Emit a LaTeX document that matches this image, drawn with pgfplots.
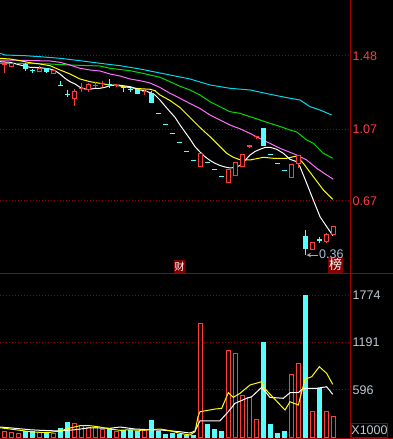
\documentclass[border=0pt]{standalone}
\usepackage{pgfplots}
\pgfplotsset{compat=1.18}
\usepackage{pgfplotstable}
\usepackage{fontspec}
\setmainfont{Liberation Sans}
\newfontfamily\cjk{Noto Sans CJK SC}
\definecolor{cred}{RGB}{255,60,60}
\definecolor{ccyan}{RGB}{84,255,255}
\definecolor{gridc}{RGB}{150,0,0}
\definecolor{framec}{RGB}{160,0,0}
\definecolor{maA}{RGB}{0,215,235}
\definecolor{maB}{RGB}{0,220,0}
\definecolor{maC}{RGB}{255,110,255}
\definecolor{maD}{RGB}{255,255,0}
\definecolor{vlab}{RGB}{190,200,210}
\definecolor{lbl}{RGB}{170,190,210}
\definecolor{boxbg}{RGB}{128,0,0}
\definecolor{arrowc}{RGB}{170,170,170}

% price moving averages (x position, price)
\pgfplotstableread{
x y
0 1.4482
10 1.4448
20 1.4297
30 1.4169
40 1.4147
50 1.4074
55 1.3979
60 1.3795
65 1.3554
70 1.3365
75 1.3236
80 1.3052
85 1.2957
90 1.2941
95 1.2996
100 1.2996
105 1.3052
110 1.3141
115 1.3181
120 1.3164
125 1.3125
130 1.3086
135 1.2996
140 1.2901
145 1.2862
150 1.2751
155 1.2622
160 1.2342
165 1.2007
170 1.1688
175 1.1376
180 1.0946
185 1.0555
190 1.0163
195 0.9733
200 0.9437
205 0.9175
210 0.8963
215 0.8806
220 0.8683
225 0.8600
230 0.8544
235 0.8571
240 0.8683
245 0.8963
250 0.9270
255 0.9465
260 0.9588
265 0.9689
270 0.9700
276.7 0.9588
283.3 0.9365
290 0.9029
296.7 0.8895
300 0.8616
306.7 0.7689
313.3 0.6756
320 0.5823
326.7 0.5264
333 0.4760
}\mafive
\pgfplotstableread{
x y
0 1.4671
10 1.4632
20 1.4537
30 1.4426
40 1.4353
50 1.4258
60 1.4018
70 1.3795
80 1.3516
90 1.3365
100 1.3275
110 1.3181
120 1.3125
130 1.3030
140 1.2974
150 1.2941
155 1.2862
160 1.2622
170 1.2314
180 1.1923
190 1.1365
200 1.0806
210 1.0292
220 0.9733
226.7 0.9365
233.3 0.9141
240 0.9002
250 0.8990
263.3 0.9141
273.3 0.9086
286.7 0.9086
296.7 0.9214
303.3 0.8806
313.3 0.8063
323.3 0.7315
332.7 0.6795
}\maten
\pgfplotstableread{
x y
0 1.4576
20 1.4560
50 1.4521
60 1.4448
70 1.4297
80 1.4113
90 1.4018
100 1.3962
110 1.3795
120 1.3683
130 1.3516
140 1.3421
150 1.3292
160 1.3041
170 1.2717
180 1.2437
190 1.2147
200 1.1867
210 1.1505
220 1.1225
230 1.0946
240 1.0734
250 1.0477
260 1.0187
280 0.9644
296.7 0.9270
306.7 0.8990
316.7 0.8527
326.7 0.8153
333.3 0.7913
}\matwenty
\pgfplotstableread{
x y
0 1.4392
20 1.4392
50 1.4353
70 1.4297
100 1.4241
110 1.4113
130 1.3979
140 1.3867
150 1.3739
160 1.3610
170 1.3365
180 1.3108
190 1.2901
200 1.2622
210 1.2247
220 1.1968
230 1.1688
240 1.1599
250 1.1409
260 1.1225
270 1.1040
280 1.0862
290 1.0666
296.7 1.0555
306.7 1.0108
313.3 0.9924
323.3 0.9365
332.7 0.9086
}\mathirty
\pgfplotstableread{
x y
0 1.4951
5 1.4856
25 1.4817
40 1.4761
60 1.4671
80 1.4537
100 1.4392
120 1.4258
140 1.4074
150 1.3962
170 1.3739
190 1.3516
210 1.3181
230 1.2996
250 1.2901
270 1.2662
290 1.2439
300 1.2342
310 1.1968
320 1.1783
331.7 1.1504
}\masixty

% candle bodies: x, base, height
\pgfplotstableread{
x b h
4 1.4300 0.0020
11 1.4202 0.0151
18 1.4380 0.0012
39 1.3923 0.0151
53 1.3834 0.0128
74 1.2399 0.0391
81 1.2996 0.0012
88 1.2941 0.0240
95 1.3164 0.0012
102 1.3275 0.0012
116 1.3141 0.0012
144 1.2807 0.0012
200 0.8616 0.0749
228 0.7722 0.0749
235 0.8113 0.0749
242 0.8616 0.0654
249 0.9772 0.0012
256 1.0290 0.0012
291 0.8024 0.0726
298 0.8806 0.0425
312 0.3963 0.0430
326 0.4432 0.0369
333 0.4840 0.0463
}\rbody
\pgfplotstableread{
x b h
25 1.4074 0.0223
32 1.3962 0.0012
46 1.3923 0.0151
60 1.3164 0.0012
67 1.2622 0.0012
109 1.3181 0.0012
123 1.3052 0.0012
130 1.2901 0.0012
137 1.2717 0.0224
151 1.2214 0.0504
158 1.1599 0.0012
165 1.0985 0.0012
172 1.0482 0.0012
179 0.9979 0.0012
186 0.9476 0.0012
193 0.8974 0.0012
207 0.8862 0.0012
214 0.8471 0.0012
221 0.8080 0.0012
263 0.9789 0.0972
270 0.9270 0.0012
277 0.8767 0.0012
284 0.8376 0.0012
305 0.4036 0.0670
319 0.4521 0.0012
}\cbody
% wicks: x, high, high-low
\pgfplotstableread{
x h r
4 1.4465 0.0615
11 1.4380 0.0200
39 1.4241 0.0318
74 1.2941 0.0934
81 1.3275 0.0468
88 1.3275 0.0468
95 1.3365 0.0369
102 1.3420 0.0368
116 1.3236 0.0184
144 1.2941 0.0319
249 0.9772 0.0111
256 1.0290 0.0127
298 0.9231 0.0704
326 0.4895 0.0558
}\rwick
\pgfplotstableread{
x h r
25 1.4428 0.0449
32 1.4074 0.0240
46 1.4074 0.0240
60 1.3404 0.0240
67 1.2901 0.0407
109 1.3516 0.0520
123 1.3181 0.0374
130 1.2996 0.0189
151 1.2829 0.0615
305 0.5080 0.1397
319 0.4706 0.0369
}\cwick

% volume (thousands)
\pgfplotstableread{
x v
4 81
11 65
18 56
39 65
53 56
74 181
81 147
88 131
95 122
102 97
116 81
144 90
200 1424
228 1079
235 1050
242 526
249 496
256 227
291 788
298 925
312 330
326 330
333 256
}\rvol
\pgfplotstableread{
x v
25 73
32 73
46 65
60 118
67 193
109 110
123 85
130 85
137 73
151 218
158 73
165 35
172 48
179 35
186 31
193 31
207 168
214 94
221 81
263 1191
270 168
277 44
284 69
305 1777
319 613
}\cvol
\pgfplotstableread{
x y
0 131
15 115
30 97
40 90
60 81
75 97
90 122
110 115
120 131
135 106
150 97
165 90
180 72
190 56
195 81
200 209
220 209
228.3 322
235 426
246.7 489
251.7 509
261.7 626
270 501
283.3 489
290 559
298.3 559
303.3 614
316.7 614
326.7 633
332.7 539
}\vmaw
\pgfplotstableread{
x y
0 122
10 106
20 90
30 72
40 65
50 65
60 81
70 118
80 147
90 147
100 131
110 106
120 90
130 97
140 90
150 97
160 106
170 85
180 52
190 31
195 72
198 259
200 322
215 355
221.7 364
228.3 559
233.3 501
240 551
250 655
261.7 696
263.3 634
267 581
280 409
285 343
290 446
298.3 405
305 726
311.7 758
319.3 883
326.7 800
332.7 663
}\vmay

\pgfplotsset{
  base/.style={anchor=south west, scale only axis, width=350pt,
    xmin=0, xmax=350, axis line style={draw=none}, xtick=\empty, ytick=\empty,
    major tick length=0pt,
    grid style={gridc, line width=1pt, dash pattern=on 1pt off 2pt},
    tick label style={font=\fontsize{12.5}{12.5}\selectfont},
    yticklabel style={anchor=west, inner sep=0pt, xshift=2.5pt},
    every axis plot/.append style={line width=1pt, mark=none}},
  upper/.style={base, at={(0pt,165pt)}, height=274pt, ymin=0.2622, ymax=1.7928},
  lower/.style={base, at={(0pt,1pt)}, height=164pt, ymin=-6, ymax=2039},
}

\begin{document}
\begin{tikzpicture}[x=1pt,y=1pt]
\fill[black] (0,0) rectangle (393,439);
% price pane: grid, moving averages, wicks
\begin{axis}[upper, ymajorgrids, ytick={0.67,1.07,1.48},
  yticklabels={0.67,1.07,1.48}, yticklabel pos=right,
  yticklabel style={text=cred}]
\addplot[maA] table {\masixty};
\addplot[maB] table {\mathirty};
\addplot[maC] table {\matwenty};
\addplot[maD] table {\maten};
\addplot[white] table {\mafive};
\addplot[draw=none, error bars/.cd, y dir=minus, y explicit, error mark=none,
  error bar style={draw=cred, line width=1pt, solid}]
  table[x=x, y=h, y error=r] {\rwick};
\addplot[draw=none, error bars/.cd, y dir=minus, y explicit, error mark=none,
  error bar style={draw=ccyan, line width=1pt, solid}]
  table[x=x, y=h, y error=r] {\cwick};
\end{axis}
% rising candle bodies
\begin{axis}[upper, hide axis, ybar stacked, bar width=4pt]
\addplot[draw=none, fill=none] table[x=x, y=b] {\rbody};
\addplot[draw=cred, fill=black] table[x=x, y=h] {\rbody};
\end{axis}
% falling candle bodies and notes
\begin{axis}[upper, hide axis, ybar stacked, bar width=4pt]
\addplot[draw=none, fill=none] table[x=x, y=b] {\cbody};
\addplot[draw=ccyan, fill=ccyan] table[x=x, y=h] {\cbody};
\draw[arrowc, line width=1pt, ->, >=stealth] (axis cs:318,0.3683) -- (axis cs:306.5,0.3683);
\node[anchor=west, text=lbl, inner sep=0pt, font=\fontsize{12.5}{12.5}\selectfont]
  at (axis cs:319,0.3710) {0.36};
\node[fill=boxbg, text=white, inner sep=0pt, minimum width=11pt, minimum height=12.5pt,
  font=\cjk\fontsize{10}{10}\selectfont] at (axis cs:179.5,0.3052) {财};
\node[fill=boxbg, text=white, inner sep=0pt, minimum width=14.5pt, minimum height=16pt,
  font=\cjk\fontsize{13}{13}\selectfont] at (axis cs:335.5,0.3150) {榜};
\end{axis}
% volume pane
\begin{axis}[lower, ymajorgrids, ytick={596,1191,1774},
  yticklabels={596,1191,1774}, yticklabel pos=right,
  yticklabel style={text=vlab}]
\addplot[ybar, bar width=4pt, bar shift=0pt, draw=cred, fill=black] table[x=x, y=v] {\rvol};
\addplot[ybar, bar width=4pt, bar shift=0pt, draw=ccyan, fill=ccyan] table[x=x, y=v] {\cvol};
\addplot[white] table {\vmaw};
\addplot[maD] table {\vmay};
\end{axis}
% frame lines
\draw[framec, line width=1pt] (350.5,0) -- (350.5,439);
\draw[framec, line width=1pt] (0,165) -- (393,165);
\draw[framec, line width=1pt] (0,0.5) -- (393,0.5);
\draw[framec, line width=1pt] (351.5,1.5) rectangle (387.5,15.5);
\node[text=vlab, inner sep=0pt, font=\fontsize{12.5}{12.5}\selectfont] at (369.5,8.5) {X1000};
\pgfresetboundingbox
\useasboundingbox (0,0) rectangle (393,439);
\end{tikzpicture}
\end{document}
